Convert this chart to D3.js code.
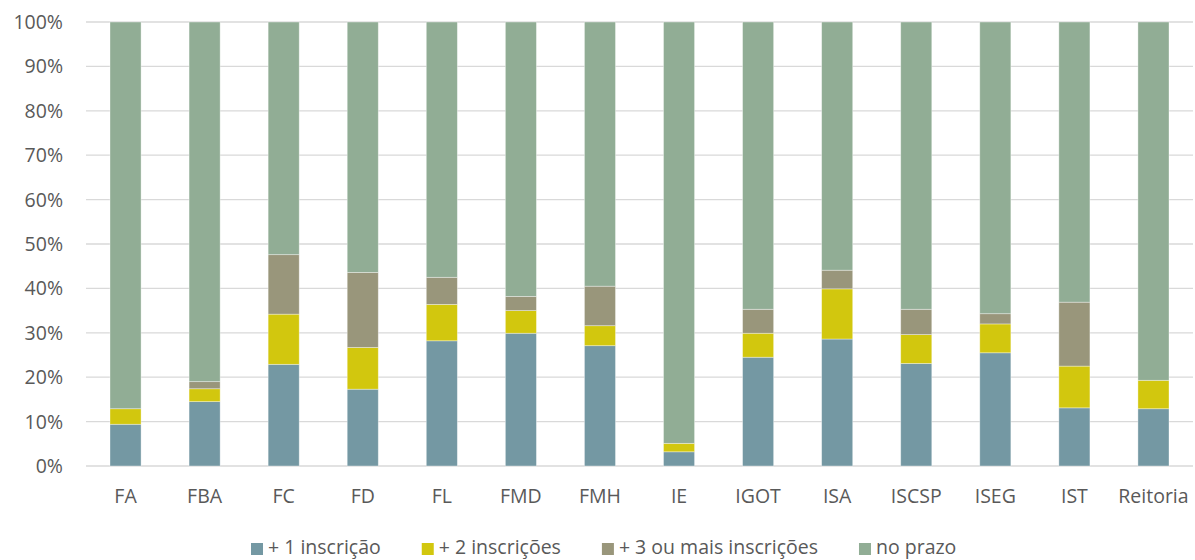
<!DOCTYPE html>
<html>
<head>
<meta charset="utf-8">
<script src="https://cdn.jsdelivr.net/npm/d3@7"></script>
<style>
  body { margin: 0; background: #fff; }
  svg text { font-family: "Open Sans", "Noto Sans", sans-serif; fill: #595959; }
</style>
</head>
<body>
<svg id="chart" width="1195" height="560"></svg>
<script>
// faculties / schools
var categories = ["FA", "FBA", "FC", "FD", "FL", "FMD", "FMH", "IE", "IGOT", "ISA", "ISCSP", "ISEG", "IST", "Reitoria"];

// shares in %
var mais1 = [9.4, 14.5, 22.9, 17.3, 28.2, 29.9, 27.1, 3.2, 24.5, 28.6, 23.1, 25.5, 13.1, 12.9];
var mais2 = [3.5, 2.9, 11.3, 9.4, 8.2, 5.1, 4.5, 1.9, 5.4, 11.3, 6.5, 6.5, 9.4, 6.4];
var mais3 = [0, 1.6, 13.4, 16.9, 6.1, 3.2, 8.9, 0, 5.4, 4.2, 5.7, 2.3, 14.4, 0];
var noPrazo = categories.map(function(c, i) { return 100 - mais1[i] - mais2[i] - mais3[i]; });

var seriesNames = ["+ 1 inscrição", "+ 2 inscrições", "+ 3 ou mais inscrições", "no prazo"];
var seriesKeys = ["m1", "m2", "m3", "np"];
var colors = ["#7498A3", "#D2C70E", "#99967B", "#91AD95"];
var yTicks = [0, 10, 20, 30, 40, 50, 60, 70, 80, 90, 100];

var table = categories.map(function(c, i) {
  return { cat: c, m1: mais1[i], m2: mais2[i], m3: mais3[i], np: noPrazo[i] };
});

var svg = d3.select("#chart");
var plotLeft = 86, plotRight = 1193, plotTop = 22, plotBottom = 466;
var fontSize = "19.5px";

var x = d3.scaleBand().domain(categories).range([plotLeft, plotRight]).paddingInner(0.607).paddingOuter(0.3035);
var y = d3.scaleLinear().domain([0, 100]).range([plotBottom, plotTop]);

// gridlines
svg.append("g").selectAll("line")
  .data(yTicks)
  .enter().append("line")
  .attr("x1", plotLeft).attr("x2", plotRight)
  .attr("y1", function(d) { return y(d); })
  .attr("y2", function(d) { return y(d); })
  .attr("stroke", "#D9D9D9")
  .attr("stroke-width", 1.3);

// y labels
svg.append("g").selectAll("text")
  .data(yTicks)
  .enter().append("text")
  .attr("x", 63)
  .attr("y", function(d) { return y(d); })
  .attr("dy", "0.36em")
  .attr("text-anchor", "end")
  .style("font-size", fontSize)
  .text(function(d) { return d + "%"; });

// stacked bars
var stacked = d3.stack().keys(seriesKeys)(table);

svg.append("g").selectAll("g")
  .data(stacked)
  .enter().append("g")
  .attr("fill", function(d, i) { return colors[i]; })
  .selectAll("rect")
  .data(function(d) { return d; })
  .enter().append("rect")
  .attr("x", function(d) { return x(d.data.cat); })
  .attr("width", x.bandwidth())
  .attr("y", function(d) { return y(d[1]); })
  .attr("height", function(d) { return y(d[0]) - y(d[1]); })
  .attr("stroke", "#fff")
  .attr("stroke-opacity", 0.45)
  .attr("stroke-width", 0.8);

// x labels
svg.append("g").selectAll("text")
  .data(categories)
  .enter().append("text")
  .attr("x", function(d) { return x(d) + x.bandwidth() / 2; })
  .attr("y", 503)
  .attr("text-anchor", "middle")
  .style("font-size", fontSize)
  .text(function(d) { return d; });

// legend
var legend = svg.append("g");
var lx = 251;
seriesNames.forEach(function(name, i) {
  legend.append("rect")
    .attr("x", lx).attr("y", 543)
    .attr("width", 12).attr("height", 12)
    .attr("fill", colors[i]);
  var t = legend.append("text")
    .attr("x", lx + 17)
    .attr("y", 554)
    .style("font-size", fontSize)
    .text(name);
  lx += 17 + t.node().getComputedTextLength() + 41;
});
</script>
</body>
</html>
